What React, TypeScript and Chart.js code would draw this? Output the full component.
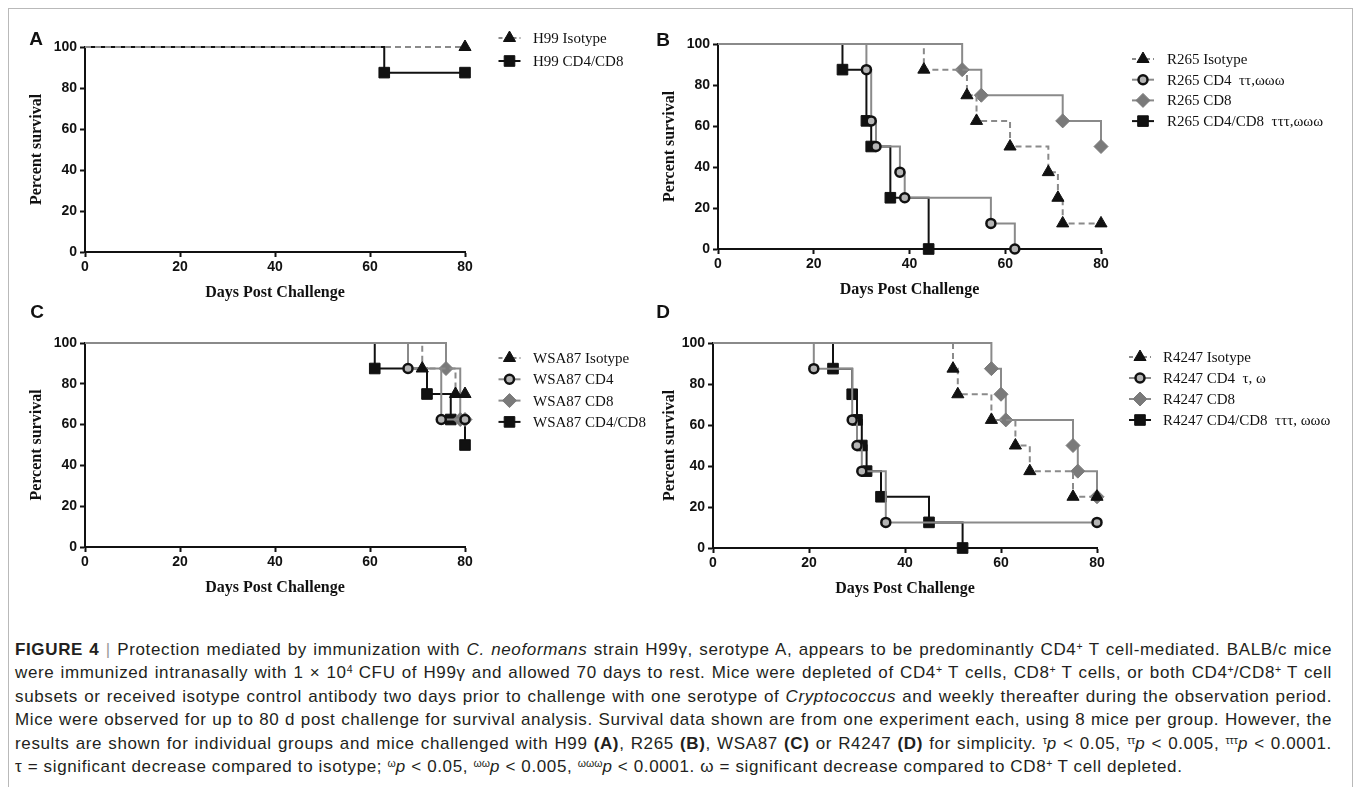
import React, { useEffect, useRef } from "react";
import { Chart, registerables } from "chart.js";

Chart.register(...registerables);

// ---------- Data (days post challenge / percent survival) ----------
const xTicks = [0, 20, 40, 60, 80];
const yTicks = [0, 20, 40, 60, 80, 100];

// Panel A — H99
const A_isoDays = [0, 80];
const A_isoSurv = [100, 100];
const A_dblDays = [0, 63, 80];
const A_dblSurv = [100, 87.5, 87.5];

// Panel B — R265
const B_isoDays = [0, 43, 52, 54, 61, 69, 71, 72, 80];
const B_isoSurv = [100, 87.5, 75, 62.5, 50, 37.5, 25, 12.5, 12.5];
const B_cd4Days = [0, 31, 32, 33, 38, 39, 57, 62];
const B_cd4Surv = [100, 87.5, 62.5, 50, 37.5, 25, 12.5, 0];
const B_cd8Days = [0, 51, 55, 72, 80];
const B_cd8Surv = [100, 87.5, 75, 62.5, 50];
const B_dblDays = [0, 26, 31, 32, 36, 44];
const B_dblSurv = [100, 87.5, 62.5, 50, 25, 0];

// Panel C — WSA87
const C_isoDays = [0, 71, 78, 80];
const C_isoSurv = [100, 87.5, 75, 75];
const C_cd4Days = [0, 68, 75, 80];
const C_cd4Surv = [100, 87.5, 62.5, 62.5];
const C_cd8Days = [0, 76, 79, 80];
const C_cd8Surv = [100, 87.5, 62.5, 62.5];
const C_dblDays = [0, 61, 72, 77, 80];
const C_dblSurv = [100, 87.5, 75, 62.5, 50];

// Panel D — R4247
const D_isoDays = [0, 50, 51, 58, 63, 66, 75, 80];
const D_isoSurv = [100, 87.5, 75, 62.5, 50, 37.5, 25, 25];
const D_cd4Days = [0, 21, 29, 30, 31, 36, 80];
const D_cd4Surv = [100, 87.5, 62.5, 50, 37.5, 12.5, 12.5];
const D_cd8Days = [0, 58, 60, 61, 75, 76, 80];
const D_cd8Surv = [100, 87.5, 75, 62.5, 50, 37.5, 25];
const D_dblDays = [0, 25, 29, 30, 31, 32, 35, 45, 52];
const D_dblSurv = [100, 87.5, 75, 62.5, 50, 37.5, 25, 12.5, 0];

// ---------- Styles ----------
const BLACK = "#111111";
const GRAY = "#8a8a8a";
const DGRAY = "#7a7a7a";

type StyleKey = "iso" | "cd4" | "cd8" | "dbl";
const STYLES: Record<StyleKey, any> = {
  iso: { line: GRAY, dash: [6, 4], point: "triangle", fill: BLACK, border: BLACK, r: 7, bw: 1 },
  cd4: { line: GRAY, dash: [], point: "circle", fill: "#b5b5b5", border: BLACK, r: 4.5, bw: 2.5 },
  cd8: { line: GRAY, dash: [], point: "rectRot", fill: DGRAY, border: DGRAY, r: 7, bw: 1 },
  dbl: { line: BLACK, dash: [], point: "rect", fill: BLACK, border: BLACK, r: 7.5, bw: 1 },
};

type Series = { key: StyleKey; label: string; days: number[]; surv: number[] };

type PanelCfg = {
  L: number; T: number; R: number; B: number; titleX: number;
  legend: { dx: number; textDx: number; y0: number; dy: number };
  series: Series[];
};

const PANELS: PanelCfg[] = [
  {
    L: 85, T: 47, R: 465, B: 252, titleX: 37,
    legend: { dx: 44.5, textDx: 68, y0: -9, dy: 23 },
    series: [
      { key: "iso", label: "H99 Isotype", days: A_isoDays, surv: A_isoSurv },
      { key: "dbl", label: "H99 CD4/CD8", days: A_dblDays, surv: A_dblSurv },
    ],
  },
  {
    L: 718, T: 44, R: 1101, B: 249, titleX: 670,
    legend: { dx: 42, textDx: 66, y0: 15, dy: 20.7 },
    series: [
      { key: "iso", label: "R265 Isotype", days: B_isoDays, surv: B_isoSurv },
      { key: "cd4", label: "R265 CD4  ττ,ωωω", days: B_cd4Days, surv: B_cd4Surv },
      { key: "cd8", label: "R265 CD8", days: B_cd8Days, surv: B_cd8Surv },
      { key: "dbl", label: "R265 CD4/CD8  τττ,ωωω", days: B_dblDays, surv: B_dblSurv },
    ],
  },
  {
    L: 85, T: 343, R: 465, B: 547, titleX: 37,
    legend: { dx: 44.5, textDx: 68, y0: 15, dy: 21.3 },
    series: [
      { key: "iso", label: "WSA87 Isotype", days: C_isoDays, surv: C_isoSurv },
      { key: "cd4", label: "WSA87 CD4", days: C_cd4Days, surv: C_cd4Surv },
      { key: "cd8", label: "WSA87 CD8", days: C_cd8Days, surv: C_cd8Surv },
      { key: "dbl", label: "WSA87 CD4/CD8", days: C_dblDays, surv: C_dblSurv },
    ],
  },
  {
    L: 713, T: 343, R: 1097, B: 548, titleX: 670,
    legend: { dx: 43, textDx: 66, y0: 14, dy: 21 },
    series: [
      { key: "iso", label: "R4247 Isotype", days: D_isoDays, surv: D_isoSurv },
      { key: "cd4", label: "R4247 CD4  τ, ω", days: D_cd4Days, surv: D_cd4Surv },
      { key: "cd8", label: "R4247 CD8", days: D_cd8Days, surv: D_cd8Surv },
      { key: "dbl", label: "R4247 CD4/CD8  τττ, ωωω", days: D_dblDays, surv: D_dblSurv },
    ],
  },
];

const LETTERS = [
  { t: "A", x: 36, y: 39 },
  { t: "B", x: 663, y: 40 },
  { t: "C", x: 37, y: 312 },
  { t: "D", x: 663, y: 312 },
];

const PAD_TOP = 40;
const PAD_RIGHT = 250;
const X_AXIS_H = 54;

function drawMarker(ctx: CanvasRenderingContext2D, st: any, x: number, y: number) {
  const r = st.r;
  ctx.save();
  ctx.fillStyle = st.fill;
  ctx.strokeStyle = st.border;
  ctx.lineWidth = st.bw;
  ctx.setLineDash([]);
  ctx.beginPath();
  if (st.point === "triangle") {
    for (let k = 0; k < 3; k++) {
      const a = (k * 2 * Math.PI) / 3;
      const px = x + Math.sin(a) * r;
      const py = y - Math.cos(a) * r;
      if (k === 0) ctx.moveTo(px, py);
      else ctx.lineTo(px, py);
    }
    ctx.closePath();
  } else if (st.point === "circle") {
    ctx.arc(x, y, r, 0, Math.PI * 2);
  } else if (st.point === "rectRot") {
    ctx.moveTo(x - r, y);
    ctx.lineTo(x, y - r);
    ctx.lineTo(x + r, y);
    ctx.lineTo(x, y + r);
    ctx.closePath();
  } else {
    const s = r * Math.SQRT1_2;
    ctx.rect(x - s, y - s, 2 * s, 2 * s);
  }
  ctx.fill();
  ctx.stroke();
  ctx.restore();
}

function Panel({ cfg }: { cfg: PanelCfg }) {
  const ref = useRef<HTMLCanvasElement>(null);
  const x0 = cfg.titleX - 16;
  const y0 = cfg.T - PAD_TOP;
  const yAxisW = cfg.L - x0;
  const w = cfg.R - x0 + PAD_RIGHT;
  const h = cfg.B - y0 + X_AXIS_H;

  useEffect(() => {
    const legendPlugin = {
      id: "kmLegend",
      afterDraw(chart: any) {
        const { ctx, chartArea } = chart;
        ctx.save();
        cfg.series.forEach((s, i) => {
          const st = STYLES[s.key];
          const cx = chartArea.right + cfg.legend.dx;
          const cy = chartArea.top + cfg.legend.y0 + i * cfg.legend.dy;
          ctx.strokeStyle = st.line;
          ctx.lineWidth = 2;
          ctx.setLineDash(s.key === "iso" ? [4, 3] : []);
          ctx.beginPath();
          ctx.moveTo(cx - 11, cy);
          ctx.lineTo(cx + 11, cy);
          ctx.stroke();
          ctx.setLineDash([]);
          drawMarker(ctx, st, cx, cy);
          ctx.fillStyle = BLACK;
          ctx.font = '15px "Liberation Serif", "Times New Roman", serif';
          ctx.textAlign = "left";
          ctx.textBaseline = "middle";
          ctx.fillText(s.label, chartArea.right + cfg.legend.textDx, cy + 1);
        });
        ctx.restore();
      },
    };

    const datasets = cfg.series.map((s) => {
      const st = STYLES[s.key];
      return {
        label: s.label,
        data: s.days.map((d, i) => ({ x: d, y: s.surv[i] })),
        stepped: "before" as const,
        borderColor: st.line,
        borderWidth: 2,
        borderDash: st.dash,
        pointStyle: st.point,
        pointRadius: s.days.map((_, i) => (i === 0 ? 0 : st.r)),
        pointHoverRadius: s.days.map((_, i) => (i === 0 ? 0 : st.r)),
        pointBackgroundColor: st.fill,
        pointBorderColor: st.border,
        pointBorderWidth: st.bw,
        fill: false,
        clip: false as any,
      };
    });

    const tickFont = { family: '"Liberation Sans", Arial, sans-serif', weight: "bold" as const, size: 14 };
    const titleFont = { family: '"Liberation Serif", "Times New Roman", serif', weight: "bold" as const, size: 16 };

    const chart = new Chart(ref.current as HTMLCanvasElement, {
      type: "line",
      data: { datasets: datasets as any },
      plugins: [legendPlugin],
      options: {
        animation: false,
        responsive: false,
        devicePixelRatio: 1,
        layout: { padding: { top: PAD_TOP, right: PAD_RIGHT, left: 0, bottom: 0 } },
        plugins: { legend: { display: false }, tooltip: { enabled: false } },
        events: [],
        scales: {
          x: {
            type: "linear",
            min: 0,
            max: 80,
            afterBuildTicks: (sc: any) => {
              sc.ticks = xTicks.map((v) => ({ value: v }));
            },
            afterFit: (sc: any) => {
              sc.height = X_AXIS_H;
            },
            ticks: { font: tickFont, color: BLACK, padding: 2, maxRotation: 0 },
            grid: { display: true, drawOnChartArea: false, drawTicks: true, tickLength: 5, tickWidth: 2, tickColor: BLACK },
            border: { display: true, color: BLACK, width: 2 },
            title: { display: true, text: "Days Post Challenge", font: titleFont, color: BLACK, padding: { top: 0, bottom: 4 } },
          },
          y: {
            type: "linear",
            min: 0,
            max: 100,
            afterBuildTicks: (sc: any) => {
              sc.ticks = yTicks.map((v) => ({ value: v }));
            },
            afterFit: (sc: any) => {
              sc.width = yAxisW;
            },
            ticks: { font: tickFont, color: BLACK, padding: 3 },
            grid: { display: true, drawOnChartArea: false, drawTicks: true, tickLength: 5, tickWidth: 2, tickColor: BLACK },
            border: { display: true, color: BLACK, width: 2 },
            title: { display: true, text: "Percent survival", font: titleFont, color: BLACK, padding: { top: 6.4, bottom: 0 } },
          },
        },
      } as any,
    });
    return () => chart.destroy();
  }, []);

  return (
    <canvas
      ref={ref}
      width={w}
      height={h}
      style={{ position: "absolute", left: x0, top: y0, width: w, height: h }}
    />
  );
}

const supS: React.CSSProperties = { fontSize: "0.62em", lineHeight: 0, verticalAlign: "0.5em", letterSpacing: 0 };
const Sup = ({ c }: { c: string }) => <span style={supS}>{c}</span>;

const CAP_TOPS = [650, 673.4, 696.8, 720.2, 743.6, 767];

export default function App() {
  useEffect(() => {
    document.body.style.margin = "0";
  }, []);

  const lineBase: React.CSSProperties = {
    position: "absolute",
    left: 15,
    width: 1317,
    fontFamily: '"Liberation Sans", Arial, sans-serif',
    fontSize: 17,
    letterSpacing: "0.63px",
    lineHeight: "20px",
    whiteSpace: "nowrap",
    color: "#231f20",
    textAlign: "justify",
    textAlignLast: "justify" as any,
  };
  const ln = (i: number, last = false): React.CSSProperties => ({
    ...lineBase,
    top: CAP_TOPS[i] - 10,
    ...(last ? { textAlign: "left", textAlignLast: "left" as any } : {}),
  });

  return (
    <div style={{ position: "fixed", left: 0, top: 0, width: 1357, height: 787, overflow: "hidden", background: "#fff" }}>
      <div
        style={{
          position: "absolute",
          left: 8,
          top: 8,
          width: 1343,
          height: 820,
          border: "1.5px solid #b9b9b9",
        }}
      />
      {PANELS.map((p, i) => (
        <Panel key={i} cfg={p} />
      ))}
      {LETTERS.map((l) => (
        <div
          key={l.t}
          style={{
            position: "absolute",
            left: l.x - 12,
            top: l.y - 12,
            width: 24,
            height: 24,
            lineHeight: "24px",
            textAlign: "center",
            fontFamily: '"Liberation Sans", Arial, sans-serif',
            fontWeight: "bold",
            fontSize: 19,
            color: BLACK,
          }}
        >
          {l.t}
        </div>
      ))}

      <div style={ln(0)}>
        <b>FIGURE 4</b> <span style={{ color: "#9a9a9a" }}>|</span> Protection mediated by immunization with{" "}
        <i>C. neoformans</i> strain H99γ, serotype A, appears to be predominantly CD4<Sup c="+" /> T cell-mediated. BALB/c mice
      </div>
      <div style={ln(1)}>
        were immunized intranasally with 1 × 10<Sup c="4" /> CFU of H99γ and allowed 70 days to rest. Mice were depleted of CD4
        <Sup c="+" /> T cells, CD8<Sup c="+" /> T cells, or both CD4<Sup c="+" />/CD8<Sup c="+" /> T cell
      </div>
      <div style={ln(2)}>
        subsets or received isotype control antibody two days prior to challenge with one serotype of <i>Cryptococcus</i> and
        weekly thereafter during the observation period.
      </div>
      <div style={ln(3)}>
        Mice were observed for up to 80 d post challenge for survival analysis. Survival data shown are from one experiment
        each, using 8 mice per group. However, the
      </div>
      <div style={ln(4)}>
        results are shown for individual groups and mice challenged with H99 <b>(A)</b>, R265 <b>(B)</b>, WSA87 <b>(C)</b> or
        R4247 <b>(D)</b> for simplicity. <Sup c="τ" />
        <i>p</i> &lt; 0.05, <Sup c="ττ" />
        <i>p</i> &lt; 0.005, <Sup c="τττ" />
        <i>p</i> &lt; 0.0001.
      </div>
      <div style={ln(5, true)}>
        τ = significant decrease compared to isotype; <Sup c="ω" />
        <i>p</i> &lt; 0.05, <Sup c="ωω" />
        <i>p</i> &lt; 0.005, <Sup c="ωωω" />
        <i>p</i> &lt; 0.0001. ω = significant decrease compared to CD8<Sup c="+" /> T cell depleted.
      </div>
    </div>
  );
}
